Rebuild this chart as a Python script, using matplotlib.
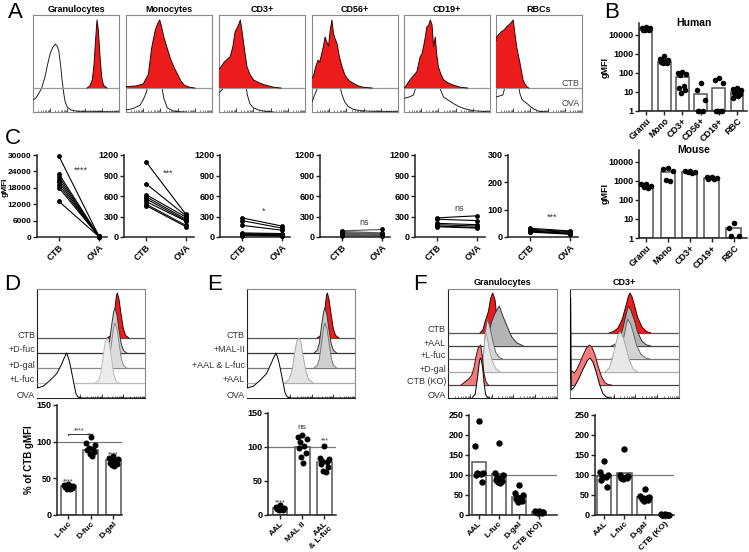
import numpy as np
import matplotlib
matplotlib.use('Agg')
import matplotlib.pyplot as plt

plt.rcParams['font.family'] = ['Liberation Sans', 'DejaVu Sans']

# ---------------- DATA ----------------
# Panel A histograms: (log-fluorescence positions, % of mode)
A_GRAN_CTB = ([3.15, 3.3, 3.45, 3.55, 3.65, 3.72, 3.8, 3.9, 4.0, 4.1, 4.3], [0, 3, 12, 35, 75, 100, 85, 45, 15, 4, 0])
A_GRAN_OVA = ([0, 0.15, 0.31, 0.5, 0.7, 0.85, 1.0, 1.15, 1.3, 1.42, 1.5, 1.6, 1.69, 1.8, 1.88, 2.0, 2.2, 2.6, 3.5, 5],
              [18, 20, 26, 35, 52, 70, 86, 95, 100, 96, 90, 70, 47, 25, 14, 7, 3, 1, 1, 0])
A_MONO_CTB = ([0, 0.6, 1.0, 1.3, 1.5, 1.7, 1.85, 1.96, 2.05, 2.2, 2.4, 2.6, 2.8, 3.0, 3.2, 3.4, 3.7, 4.0],
              [2, 3, 6, 20, 60, 85, 95, 100, 92, 75, 58, 42, 30, 20, 10, 4, 1, 0])
A_MONO_OVA = ([0, 0.4, 0.82, 1.0, 1.2, 1.35, 1.5, 1.65, 1.8, 1.9, 2.0, 2.2, 2.4, 2.8, 3.5],
              [3, 5, 10, 18, 30, 55, 80, 100, 85, 68, 50, 20, 6, 1, 0])
A_CD3_CTB = ([0, 0.06, 0.3, 0.65, 0.8, 0.94, 1.05, 1.14, 1.24, 1.33, 1.43, 1.53, 1.63, 1.8, 2.0, 2.3, 2.6, 3.2, 3.6],
             [28, 29, 38, 46, 60, 83, 88, 93, 100, 85, 66, 48, 31, 20, 12, 8, 5, 1, 0])
A_CD3_OVA = ([0, 0.3, 0.6, 0.9, 1.1, 1.2, 1.35, 1.5, 1.65, 1.8, 2.0, 2.3, 2.7, 3.2],
             [28, 36, 45, 75, 92, 100, 80, 50, 25, 12, 6, 3, 1, 0])
A_CD56_CTB = ([0, 0.08, 0.2, 0.35, 0.45, 0.57, 0.67, 0.76, 0.86, 0.96, 1.06, 1.16, 1.25, 1.35, 1.45, 1.6, 1.75, 1.9, 2.04, 2.2, 2.4, 2.7, 3.0, 3.5],
              [15, 17, 30, 41, 38, 51, 62, 75, 68, 61, 85, 100, 80, 72, 66, 45, 31, 20, 14, 10, 7, 3, 1, 0])
A_CD56_OVA = ([0, 0.2, 0.4, 0.6, 0.8, 1.0, 1.15, 1.3, 1.45, 1.6, 1.75, 1.9, 2.1, 2.4, 2.8, 3.5, 4.2, 5],
              [15, 28, 40, 50, 70, 80, 100, 78, 60, 40, 25, 15, 8, 4, 2, 1, 1, 0])
A_CD19_CTB = ([0, 0.06, 0.35, 0.55, 0.75, 0.94, 1.04, 1.14, 1.24, 1.33, 1.43, 1.53, 1.63, 1.72, 1.82, 1.9, 2.0, 2.15, 2.3, 2.6, 2.9, 3.3, 3.7],
              [0, 1, 12, 18, 24, 46, 50, 61, 75, 90, 92, 100, 93, 61, 75, 50, 31, 20, 12, 7, 4, 1, 0])
A_CD19_OVA = ([0, 0.3, 0.55, 0.8, 1.0, 1.2, 1.4, 1.6, 1.8, 2.0, 2.3, 2.6, 2.9, 3.2, 3.5, 4.0, 5],
              [20, 22, 25, 45, 75, 95, 100, 85, 60, 40, 22, 17, 12, 8, 5, 2, 0])
A_RBC_CTB = ([0, 0.04, 0.2, 0.33, 0.5, 0.62, 0.8, 0.91, 1.0, 1.1, 1.2, 1.3, 1.4, 1.5, 1.57, 1.68, 1.78, 1.9],
             [70, 75, 80, 83, 86, 90, 94, 97, 100, 80, 61, 48, 36, 22, 12, 6, 2, 0])
A_RBC_OVA = ([0, 0.4, 0.55, 0.75, 0.95, 1.1, 1.25, 1.38, 1.5, 1.65, 1.78, 2.0, 2.15, 2.5, 3.0],
             [22, 25, 40, 80, 100, 85, 55, 28, 19, 15, 13, 8, 5, 1, 0])
A_TITLES = ['Granulocytes', 'Monocytes', 'CD3+', 'CD56+', 'CD19+', 'RBCs']

# Panel B
B_HUMAN_CATS = ['Granu', 'Mono', 'CD3+', 'CD56+', 'CD19+', 'RBC']
B_HUMAN_MEANS = [20000, 380, 60, 8, 16, 10]
B_HUMAN_PTS = [[25000, 23000, 22000, 21000, 20000, 19000, 18000, 17000],
               [750, 550, 450, 420, 400, 380, 350, 330],
               [117, 100, 88, 78, 21, 16, 13, 9],
               [30, 12, 4, 1, 1, 1],
               [53, 43, 31, 1, 1, 1, 1, 1],
               [16, 14, 12, 11, 10, 9, 8, 7, 6, 5]]
B_MOUSE_CATS = ['Granu', 'Mono', 'CD3+', 'CD19+', 'RBC']
B_MOUSE_MEANS = [560, 2800, 3000, 1400, 3.2]
B_MOUSE_PTS = [[700, 650, 550, 450, 400],
               [4500, 4000, 3500, 1100, 1000],
               [3500, 3300, 3000, 2800, 2600],
               [1700, 1600, 1500, 1400, 1300, 1200],
               [6.5, 3.5, 1.2, 1.2]]

# Panel C (paired CTB -> OVA)
C_CTB = [[29500, 23000, 22000, 21000, 20000, 19000, 18000, 13000],
         [1100, 780, 620, 590, 560, 520, 480, 460],
         [280, 240, 170, 60, 50, 40, 30, 20],
         [90, 80, 65, 55, 45, 35, 25, 15],
         [280, 260, 200, 180, 160, 150],
         [32, 28, 25, 22, 20, 18]]
C_OVA = [[300, 250, 200, 200, 150, 150, 100, 100],
         [330, 310, 290, 260, 240, 230, 170, 150],
         [160, 130, 100, 50, 40, 30, 20, 10],
         [110, 60, 50, 40, 35, 25, 15, 10],
         [310, 240, 180, 160, 140, 130],
         [22, 20, 17, 14, 12, 10]]
C_YMAX = [30000, 1200, 1200, 1200, 1200, 300]
C_YTICKS = [[0, 6000, 12000, 18000, 24000, 30000], [0, 300, 600, 900, 1200], [0, 300, 600, 900, 1200],
            [0, 300, 600, 900, 1200], [0, 300, 600, 900, 1200], [0, 100, 200, 300]]
C_SIG = ['****', '***', '*', 'ns', 'ns', '***']
C_SIG_Y = [24500, 940, 370, 210, 424, 73]
C_XLABELS = ['CTB', 'OVA']

# Panel D
D_HIST_CTB = ([3.25, 3.4, 3.5, 3.6, 3.68, 3.72, 3.8, 3.9, 4.0, 4.1, 4.25], [0, 5, 20, 60, 95, 100, 85, 50, 20, 6, 0])
D_HIST_DFUC = ([3.1, 3.25, 3.35, 3.45, 3.55, 3.61, 3.7, 3.8, 3.9, 4.0, 4.15], [0, 6, 22, 60, 92, 100, 85, 50, 20, 6, 0])
D_HIST_DGAL = ([3.1, 3.25, 3.35, 3.45, 3.55, 3.61, 3.7, 3.8, 3.9, 4.0, 4.15], [0, 5, 20, 55, 90, 100, 88, 55, 22, 6, 0])
D_HIST_LFUC = ([2.7, 2.85, 2.95, 3.05, 3.15, 3.26, 3.35, 3.45, 3.55, 3.65, 3.8], [0, 5, 20, 55, 90, 100, 88, 55, 20, 5, 0])
D_HIST_OVA = ([0, 0.06, 0.29, 0.6, 0.91, 1.14, 1.25, 1.37, 1.45, 1.53, 1.68, 1.8, 1.9, 2.1, 5],
              [22, 23, 26, 39, 54, 75, 88, 100, 90, 75, 39, 10, 2, 0, 0])
D_ROWS = ['CTB', '+D-fuc', '+D-gal', '+L-fuc', 'OVA']
D_CATS = ['L-fuc', 'D-fuc', 'D-gal']
D_MEANS = [39, 89, 75]
D_PTS = [[42, 41, 40, 40, 39, 38, 37, 36, 35],
         [106, 98, 95, 92, 90, 88, 86, 83, 80],
         [80, 78, 77, 75, 73, 71, 70, 68, 67]]
D_SIG = ['****', '***', '****']
D_SIG_Y = [45, 108, 82]

# Panel E
E_HIST_CTB = ([3.25, 3.4, 3.5, 3.6, 3.68, 3.72, 3.8, 3.9, 4.0, 4.1, 4.25], [0, 5, 20, 60, 95, 100, 85, 50, 20, 6, 0])
E_HIST_MAL = ([3.1, 3.25, 3.35, 3.45, 3.55, 3.61, 3.7, 3.8, 3.9, 4.0, 4.15], [0, 6, 22, 60, 92, 100, 85, 50, 20, 6, 0])
E_HIST_AALL = ([3.1, 3.25, 3.35, 3.45, 3.55, 3.61, 3.7, 3.8, 3.9, 4.0, 4.15], [0, 5, 20, 55, 90, 100, 88, 55, 22, 6, 0])
E_HIST_AAL = ([1.76, 1.95, 2.1, 2.2, 2.3, 2.41, 2.5, 2.6, 2.72, 2.85, 3.07], [0, 8, 30, 65, 92, 100, 90, 60, 28, 8, 0])
E_HIST_OVA = ([0, 0.06, 0.29, 0.6, 0.9, 1.1, 1.22, 1.34, 1.42, 1.5, 1.65, 1.77, 1.87, 2.05, 5],
              [22, 23, 26, 39, 54, 75, 88, 100, 90, 75, 39, 10, 2, 0, 0])
E_ROWS = ['CTB', '+MAL-II', '+AAL & L-fuc', '+AAL', 'OVA']
E_CATS = ['AAL', 'MAL II', 'AAL\n& L-fuc']
E_MEANS = [10, 100, 78]
E_PTS = [[14, 12, 11, 10, 9, 9, 8, 7],
         [118, 115, 112, 108, 101, 98, 91, 85, 76],
         [102, 84, 82, 80, 78, 75, 70, 65, 63]]
E_SIG = ['****', 'ns', '***']
E_SIG_Y = [18, 128, 109]

# Panel F
F_G_CTB = ([1.47, 1.6, 1.7, 1.85, 1.96, 2.05, 2.16, 2.23, 2.3, 2.46, 2.69], [0, 8, 28, 53, 87, 100, 82, 45, 20, 7, 0])
F_G_AAL = ([1.7, 1.8, 1.9, 2.0, 2.16, 2.35, 2.53, 2.69, 2.92, 3.15, 3.46], [0, 11, 35, 61, 82, 100, 73, 52, 23, 8, 0])
F_G_LFUC = ([1.55, 1.65, 1.72, 1.8, 1.9, 2.0, 2.1, 2.2, 2.35, 2.5], [0, 20, 70, 100, 85, 60, 35, 15, 4, 0])
F_G_DGAL = ([1.5, 1.6, 1.68, 1.74, 1.82, 1.92, 2.05, 2.2, 2.4], [0, 20, 75, 100, 80, 50, 25, 8, 0])
F_G_KO = ([0.6, 0.78, 0.95, 1.09, 1.2, 1.28, 1.38, 1.5, 1.59, 1.65, 1.74, 1.85], [0, 8, 15, 25, 45, 70, 92, 100, 62, 30, 8, 0])
F_G_OVA = ([1.1, 1.25, 1.35, 1.45, 1.5, 1.58, 1.65, 1.72, 1.8, 1.9], [0, 10, 50, 95, 100, 80, 40, 10, 2, 0])
F_C_CTB = ([1.8, 2.0, 2.2, 2.4, 2.55, 2.68, 2.75, 2.85, 2.98, 3.1, 3.3, 3.5, 3.7], [0, 4, 12, 35, 65, 92, 100, 90, 65, 40, 15, 4, 0])
F_C_AAL = ([1.9, 2.1, 2.3, 2.45, 2.6, 2.68, 2.8, 2.95, 3.1, 3.3, 3.5, 3.7], [0, 5, 20, 50, 85, 100, 88, 65, 35, 12, 3, 0])
F_C_LFUC = ([1.9, 2.1, 2.3, 2.45, 2.58, 2.65, 2.78, 2.92, 3.05, 3.25, 3.45, 3.65], [0, 5, 20, 50, 85, 100, 88, 62, 35, 12, 3, 0])
F_C_DGAL = ([1.6, 1.8, 1.95, 2.1, 2.2, 2.3, 2.45, 2.6, 2.75, 2.9, 3.1], [0, 10, 35, 70, 92, 100, 85, 55, 25, 8, 0])
F_C_KO = ([0, 0.1, 0.2, 0.3, 0.45, 0.6, 0.75, 0.9, 1.0, 1.15, 1.3, 1.45, 1.6, 1.75, 1.9],
          [25, 35, 30, 38, 55, 75, 92, 100, 95, 75, 45, 20, 6, 1, 0])
F_C_OVA = ([0, 0.03, 0.06, 0.2, 0.4, 0.6, 0.8, 0.92, 1.05, 1.2, 1.35, 1.5, 1.65, 1.8],
           [0, 250, 20, 28, 48, 72, 94, 100, 90, 65, 35, 12, 3, 0])
F_ROWS = ['CTB', '+AAL', '+L-fuc', '+D-gal', 'CTB (KO)', 'OVA']
F_TITLES = ['Granulocytes', 'CD3+']
F_CATS = ['AAL', 'L-fuc', 'D-gal', 'CTB (KO)']
F_G_MEANS = [133, 103, 46, 7]
F_G_PTS = [[236, 172, 106, 104, 102, 100, 83],
           [179, 105, 100, 95, 92, 88, 85, 82, 80],
           [75, 55, 50, 46, 43, 40, 36, 32],
           [10, 9, 8, 8, 7, 7, 6, 6]]
F_C_MEANS = [98, 104, 44, 1]
F_C_PTS = [[135, 108, 100, 98, 95, 88, 70],
           [164, 100, 98, 96, 95, 93, 92, 91],
           [66, 48, 45, 43, 42, 40, 38, 36],
           [2, 1.5, 1, 1, 0.5, 0.5, 0, 0]]

# ---------------- FIGURE ----------------
W, H = 749, 552
fig = plt.figure(figsize=(W / 100, H / 100), dpi=100)


def pax(l, t, r, b):
    return fig.add_axes([l / W, 1 - b / H, (r - l) / W, (b - t) / H])


def ftext(x, y, s, **kw):
    fig.text(x / W, 1 - y / H, s, **kw)


MINOR = [d + np.log10(k) for d in range(5) for k in range(2, 10)]


def hist_panel(l, t, r, b, rows, peak, box_col='#888', left_col='#888'):
    ax = pax(l, t, r, b)
    ax.set_xlim(0, 5)
    ax.set_ylim(0, b - t)
    ax.set_yticks([])
    ax.set_xticks([1, 2, 3, 4])
    ax.set_xticks(MINOR, minor=True)
    ax.tick_params(axis='x', which='major', direction='in', length=3, width=0.7, labelbottom=False, color='#444')
    ax.tick_params(axis='x', which='minor', direction='in', length=1.5, width=0.5, color='#444')
    for s in ax.spines.values():
        s.set_color(box_col)
        s.set_linewidth(0.8)
    ax.spines['left'].set_color(left_col)
    ax.spines['bottom'].set_color(left_col)
    for i, (curve, base, fill, edge, line) in enumerate(rows):
        xs, ys = curve
        y0 = b - base
        yy = y0 + peak * np.asarray(ys, float) / 100
        z = 2 + 2 * i
        if line:
            ax.plot([0, 5], [y0, y0], color=line, lw=0.9, zorder=z, solid_capstyle='butt')
        if fill:
            ax.fill_between(xs, y0, yy, facecolor=fill, lw=0, zorder=z + 1)
        ax.plot(xs, yy, color=edge, lw=0.7, zorder=z + 1)
    return ax


def style(ax, lw=1.1, xsize=6.5, ysize=6.5):
    for s in ['top', 'right']:
        ax.spines[s].set_visible(False)
    for s in ['left', 'bottom']:
        ax.spines[s].set_linewidth(lw)
        ax.spines[s].set_color('#222')
    ax.tick_params(length=3, width=1, pad=1, color='#222')
    ax.tick_params(axis='x', labelsize=xsize)
    ax.tick_params(axis='y', labelsize=ysize)
    for lab in ax.get_yticklabels():
        lab.set_fontweight('bold')


PAT = [0, -1, 1, -0.5, 0.5, -0.75, 0.75, -0.25, 0.25, -1, 1]


def spread(n, w):
    return np.array([PAT[i % len(PAT)] for i in range(n)]) * w


def dot_bar(ax, means, pts, bw, ms, jw, bottom=0, log=False):
    for i, (m, p) in enumerate(zip(means, pts)):
        if log:
            ax.bar(i, m - bottom, bottom=bottom, width=bw, facecolor='white', edgecolor='#555', lw=1.1, zorder=2)
        else:
            ax.bar(i, m, width=bw, facecolor='white', edgecolor='#555', lw=1.1, zorder=2)
        ax.plot(i + spread(len(p), jw), p, 'o', color='black', ms=ms, mew=0, zorder=3, clip_on=False)


# ---------- Panel A ----------
A_LEFTS = [33, 126, 219, 312, 404, 496]
A_DATA = [(A_GRAN_CTB, A_GRAN_OVA), (A_MONO_CTB, A_MONO_OVA), (A_CD3_CTB, A_CD3_OVA),
          (A_CD56_CTB, A_CD56_OVA), (A_CD19_CTB, A_CD19_OVA), (A_RBC_CTB, A_RBC_OVA)]
RED = '#ec1c1c'
for l, title, (ctb, ova) in zip(A_LEFTS, A_TITLES, A_DATA):
    rows = [(ova, 112, None, '#222', None),
            (ctb, 88, RED, '#3a0000', '#999')]
    hist_panel(l, 15, l + 86, 112, rows, 68)
    ftext(l + 43, 9, title, ha='center', va='center', fontsize=6.5, fontweight='bold')
ftext(580, 84, 'CTB', ha='right', va='center', fontsize=6.5, color='#444')
ftext(580, 104, 'OVA', ha='right', va='center', fontsize=6.5, color='#444')
ftext(8, 12, 'A', ha='left', va='center', fontsize=16)


# ---------- Panel B ----------
def b_panel(t, b, cats, means, pts, title, xlim, bw):
    ax = pax(639, t, 747, b)
    ax.set_yscale('log')
    dot_bar(ax, means, pts, bw, 4.0, 0.22, bottom=1, log=True)
    ax.set_ylim(1, 42000)
    ax.set_xlim(*xlim)
    ax.set_yticks([1, 10, 100, 1000, 10000], ['1', '10', '100', '1000', '10000'])
    ax.set_xticks(range(len(cats)), cats, rotation=45, ha='right', rotation_mode='anchor', fontweight='bold')
    style(ax)
    ax.tick_params(axis='y', which='minor', length=1.5, width=0.6)
    ftext(605, (t + b) / 2, 'gMFI', ha='center', va='center', rotation=90, fontsize=6.5, fontweight='bold')
    ftext(694, t, title, ha='center', va='center', fontsize=7.5, fontweight='bold')
    return ax


b_panel(23, 111, B_HUMAN_CATS, B_HUMAN_MEANS, B_HUMAN_PTS, 'Human', (-0.38, 5.55), 0.71)
b_panel(150, 238, B_MOUSE_CATS, B_MOUSE_MEANS, B_MOUSE_PTS, 'Mouse', (-0.32, 4.6), 0.68)
ftext(604, 13, 'B', ha='left', va='center', fontsize=16)

# ---------- Panel C ----------
C_LEFTS = [37, 124, 220, 320, 415, 508]
for k, l in enumerate(C_LEFTS):
    ax = pax(l, 155, l + 70, 237)
    lc = '#555' if k == 3 else 'black'
    for a, o in zip(C_CTB[k], C_OVA[k]):
        ax.plot([0, 1], [a, o], '-', color=lc, lw=0.8, zorder=2)
        ax.plot([0, 1], [a, o], 'o', color='black', ms=3.5, mew=0, zorder=3, clip_on=False)
    ax.set_xlim(-0.55, 1.2)
    ax.set_ylim(0, C_YMAX[k])
    ax.set_yticks(C_YTICKS[k])
    ax.set_xticks([0, 1], C_XLABELS, rotation=45, ha='right', rotation_mode='anchor', fontweight='bold')
    style(ax, ysize=6.0 if k == 0 else 6.5)
    ax.text(0.55, C_SIG_Y[k], C_SIG[k], ha='center', va='center', fontsize=6.5, color='#333')
ftext(5, 187, 'gMFI', ha='center', va='center', rotation=90, fontsize=6, fontweight='bold')
ftext(5, 139, 'C', ha='left', va='center', fontsize=16)

# ---------- Panel D ----------
D_STYLE = [(D_HIST_CTB, 338, RED, '#3a0000', '#555'),
           (D_HIST_DFUC, 353, '#cfcfcf', '#333', '#333'),
           (D_HIST_DGAL, 368, '#dcdcdc', '#888', '#888'),
           (D_HIST_LFUC, 383, '#ececec', '#bbb', '#bbb'),
           (D_HIST_OVA, 398, 'white', '#000', None)]
hist_panel(37, 289, 145, 398, D_STYLE, 45, box_col='#888', left_col='#222')
for name, (_, base, _, _, _) in zip(D_ROWS, D_STYLE):
    ftext(35, base - 3, name, ha='right', va='center', fontsize=6.5, color='#333')
ftext(4, 285, 'D', ha='left', va='center', fontsize=16)

ax = pax(57, 405, 122, 515)
dot_bar(ax, D_MEANS, D_PTS, 0.67, 4.3, 0.2)
ax.axhline(100, color='#777', lw=0.9, zorder=1)
ax.set_ylim(0, 150)
ax.set_xlim(-0.51, 2.39)
ax.set_yticks([0, 50, 100, 150])
ax.set_xticks(range(3), D_CATS, rotation=45, ha='right', rotation_mode='anchor', fontweight='bold')
style(ax, xsize=6)
ftext(29, 460, '% of CTB gMFI', ha='center', va='center', rotation=90, fontsize=7, fontweight='bold')
for i, (s, y) in enumerate(zip(D_SIG, D_SIG_Y)):
    ax.text(i, y, s, ha='center', va='center', fontsize=5, color='#333')
ax.plot([0, 0, 1, 1], [109, 111, 111, 109], color='#333', lw=0.7)
ax.text(0.5, 115, '****', ha='center', va='center', fontsize=5, color='#333')

# ---------- Panel E ----------
E_STYLE = [(E_HIST_CTB, 338, RED, '#3a0000', '#555'),
           (E_HIST_MAL, 353, '#c8c8c8', '#333', '#333'),
           (E_HIST_AALL, 368, '#d0d0d0', '#777', '#777'),
           (E_HIST_AAL, 383, '#e4e4e4', '#aaa', '#aaa'),
           (E_HIST_OVA, 398, 'white', '#000', None)]
hist_panel(247, 289, 355, 398, E_STYLE, 45, box_col='#888', left_col='#222')
for name, (_, base, _, _, _) in zip(E_ROWS, E_STYLE):
    ftext(245, base - 3, name, ha='right', va='center', fontsize=6.5, color='#333')
ftext(207, 285, 'E', ha='left', va='center', fontsize=16)

ax = pax(268, 413, 336, 515)
dot_bar(ax, E_MEANS, E_PTS, 0.67, 4.3, 0.2)
ax.axhline(100, color='#777', lw=0.9, zorder=1)
ax.set_ylim(0, 150)
ax.set_xlim(-0.54, 2.52)
ax.set_yticks([0, 50, 100, 150])
ax.set_xticks(range(3), E_CATS, rotation=45, ha='right', rotation_mode='anchor', fontweight='bold',
              linespacing=0.95)
style(ax, xsize=6)
for i, (s, y) in enumerate(zip(E_SIG, E_SIG_Y)):
    ax.text(i, y, s, ha='center', va='center', fontsize=5 if s != 'ns' else 6, color='#333')

# ---------- Panel F ----------
KO = '#f27b7b'
F_HISTS = [(F_G_CTB, F_G_AAL, F_G_LFUC, F_G_DGAL, F_G_KO, F_G_OVA),
           (F_C_CTB, F_C_AAL, F_C_LFUC, F_C_DGAL, F_C_KO, F_C_OVA)]
F_FILLS = [RED, '#b4b4b4', '#d4d4d4', '#e8e8e8', KO, 'white']
F_EDGES = ['#3a0000', '#333', '#666', '#aaa', '#4a1010', '#000']
F_LINES = ['#555', '#444', '#777', '#aaa', '#444', None]
F_BASES = [333, 346, 359, 372, 385, 398]
for l, title, hs in zip([448, 570], F_TITLES, F_HISTS):
    rows = [(h, bs, fc, ec, lc) for h, bs, fc, ec, lc in zip(hs, F_BASES, F_FILLS, F_EDGES, F_LINES)]
    hist_panel(l, 289, l + 109, 398, rows, 40, box_col='#888', left_col='#222')
    ftext(l + 54.5, 283, title, ha='center', va='center', fontsize=6.5, fontweight='bold')
for name, base in zip(F_ROWS, F_BASES):
    ftext(446, base - 3, name, ha='right', va='center', fontsize=6.5, color='#333')
ftext(413, 285, 'F', ha='left', va='center', fontsize=16)

for (l, r, xl, means, pts) in [(469, 557, (-0.485, 3.9), F_G_MEANS, F_G_PTS),
                               (595, 674, (-0.44, 3.45), F_C_MEANS, F_C_PTS)]:
    ax = pax(l, 415, r, 515)
    dot_bar(ax, means, pts, 0.72, 4.6, 0.2)
    ax.axhline(100, color='#777', lw=0.9, zorder=1)
    ax.set_ylim(0, 250)
    ax.set_xlim(*xl)
    ax.set_yticks([0, 50, 100, 150, 200, 250])
    ax.set_xticks(range(4), F_CATS, rotation=45, ha='right', rotation_mode='anchor', fontweight='bold')
    style(ax, xsize=6)

fig.savefig('out.png', dpi=100)
